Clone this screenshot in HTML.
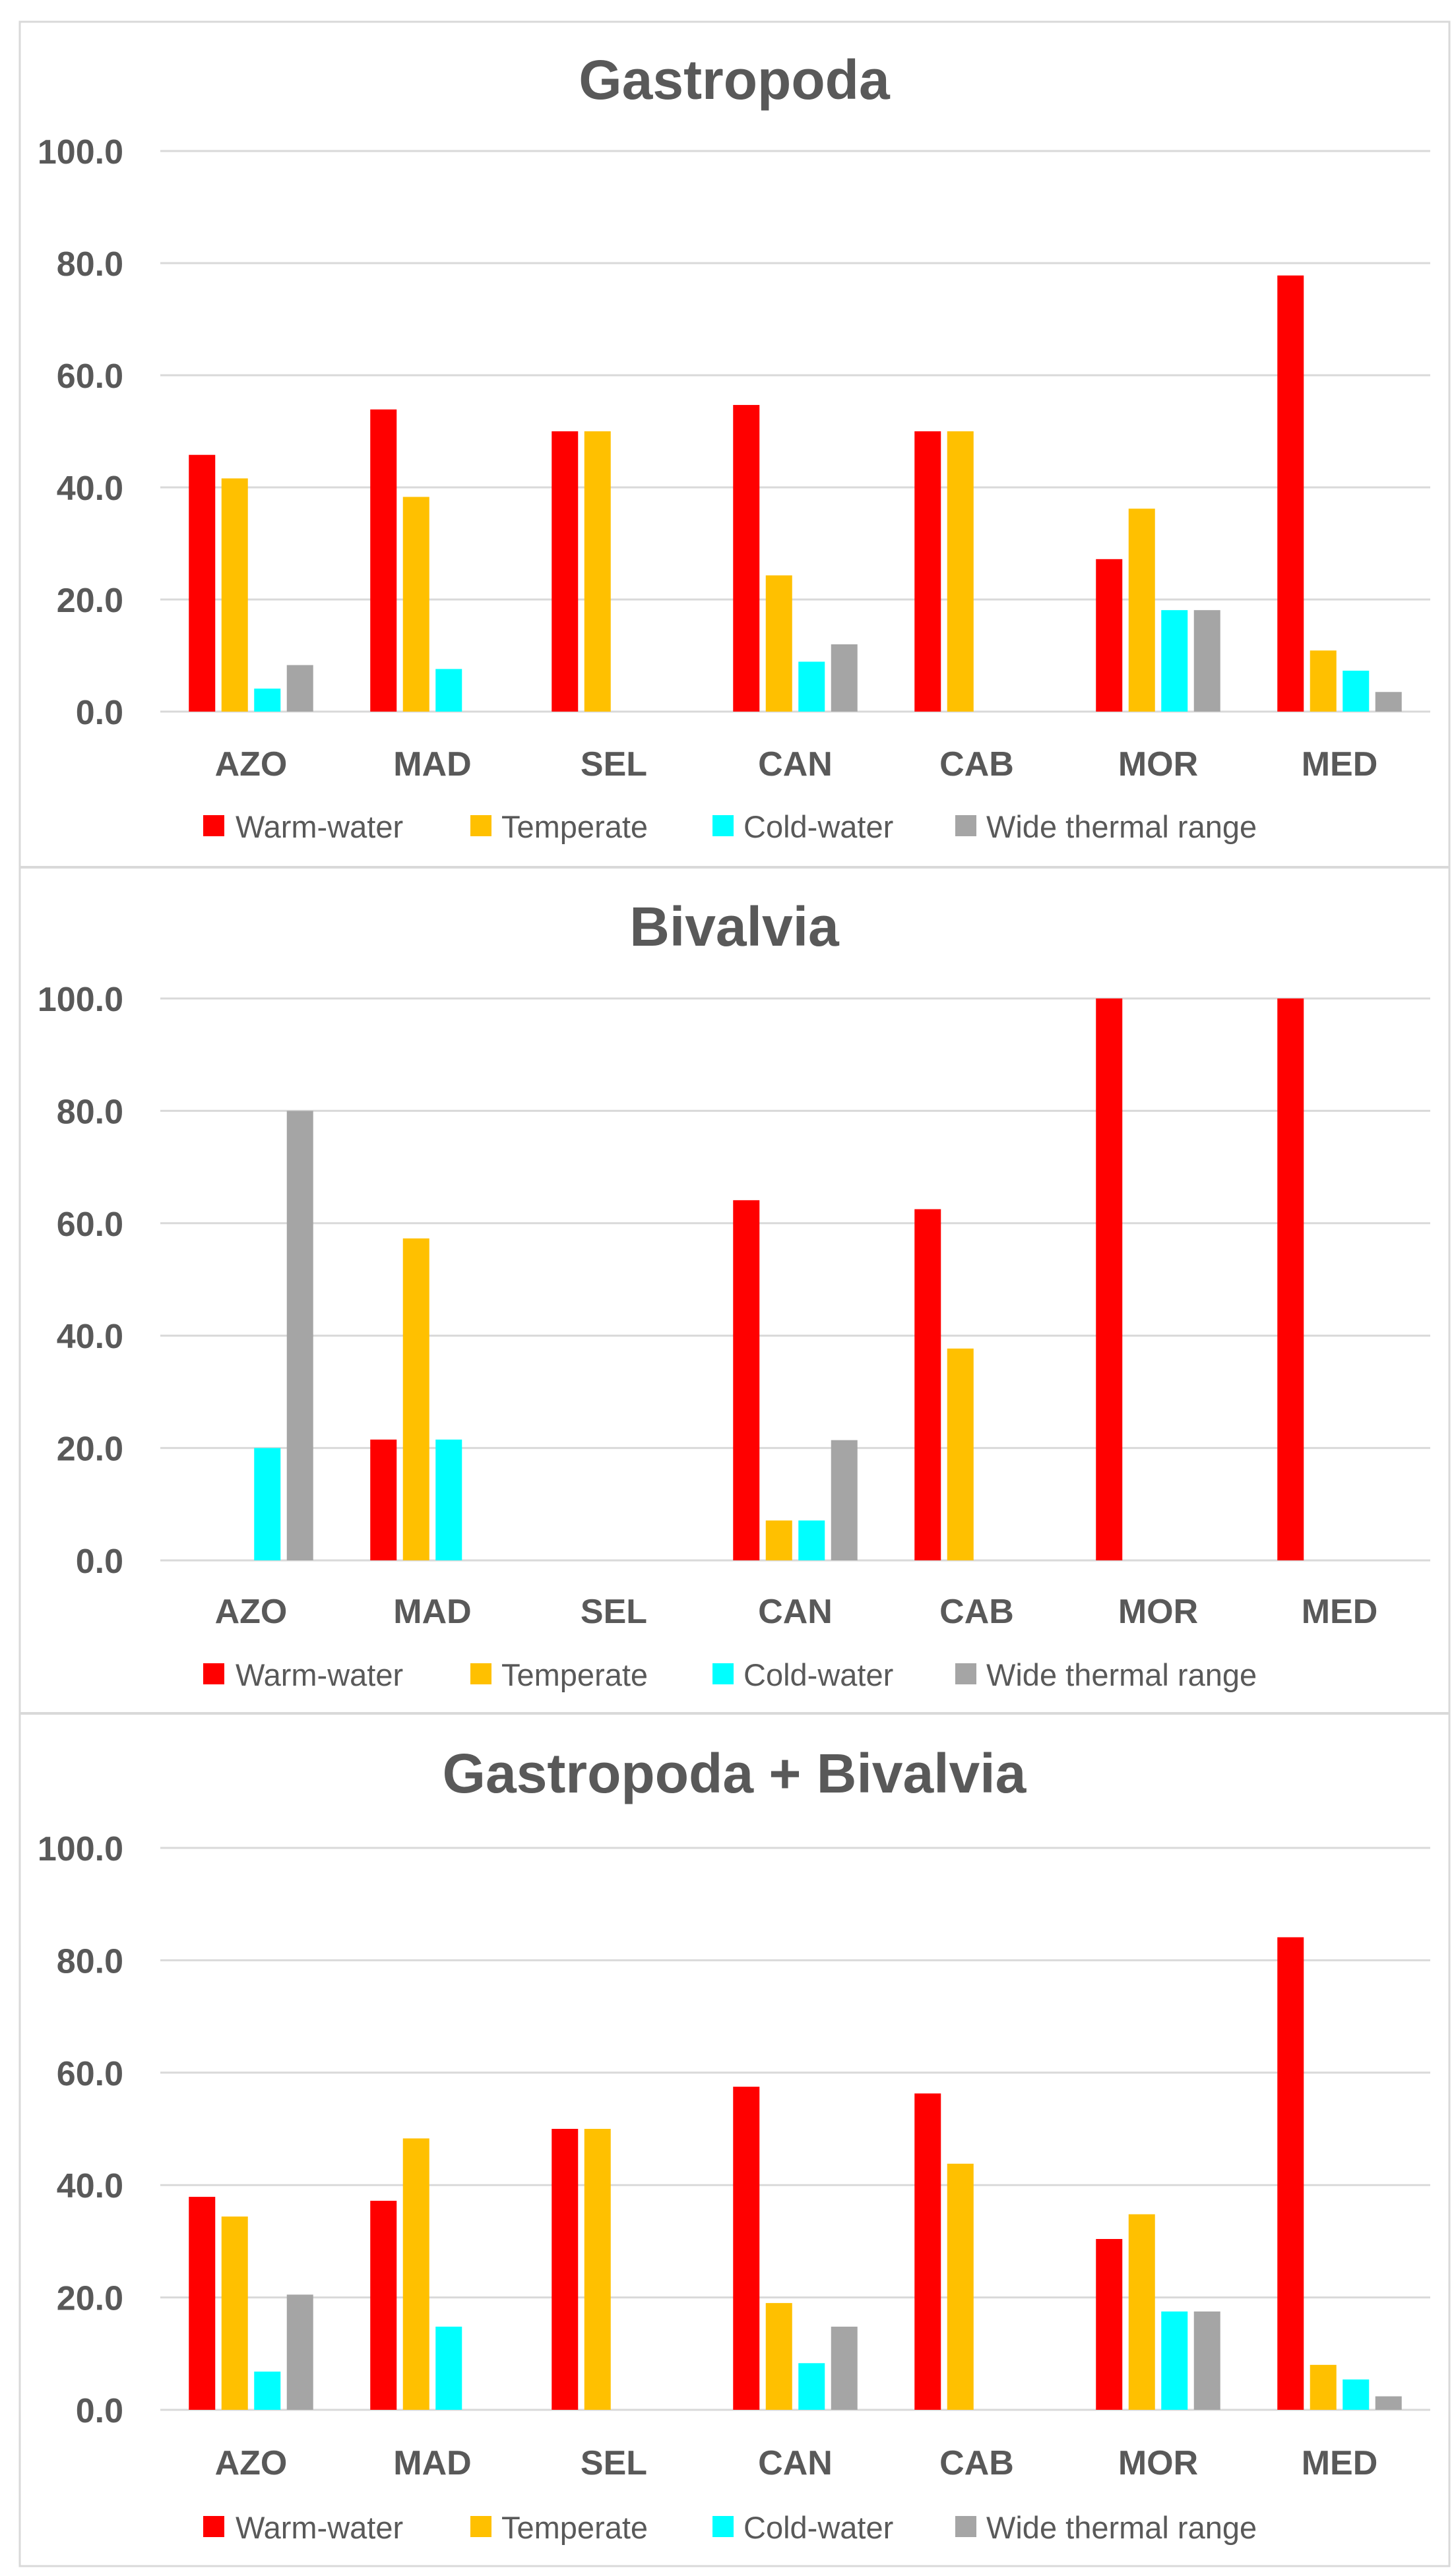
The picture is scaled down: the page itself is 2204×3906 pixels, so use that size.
<!DOCTYPE html>
<html><head><meta charset="utf-8"><style>
html,body{margin:0;padding:0;background:#fff;}
svg{display:block;font-family:"Liberation Sans",Arial,sans-serif;}
</style></head><body>
<svg id="chart" width="2204" height="3906" viewBox="0 0 2204 3906" xmlns="http://www.w3.org/2000/svg">
<rect x="0" y="0" width="2204" height="3906" fill="#fff"/>
<rect x="30" y="33" width="2167" height="3858" fill="none" stroke="#d9d9d9" stroke-width="3"/>
<line x1="30" y1="1315" x2="2197" y2="1315" stroke="#d9d9d9" stroke-width="4"/>
<line x1="30" y1="2598" x2="2197" y2="2598" stroke="#d9d9d9" stroke-width="4"/>
</svg>
<script>
const categories = ["AZO","MAD","SEL","CAN","CAB","MOR","MED"];
const seriesNames = ["Warm-water","Temperate","Cold-water","Wide thermal range"];
const titles = ["Gastropoda","Bivalvia","Gastropoda + Bivalvia"];
const tickValues = [0,20,40,60,80,100];
const tickLabels = ["0.0","20.0","40.0","60.0","80.0","100.0"];
const gastroWarm = [45.8,53.9,50,54.7,50,27.2,77.8];
const gastroTemp = [41.6,38.3,50,24.3,50,36.2,10.9];
const gastroCold = [4.1,7.6,0,8.9,0,18.1,7.3];
const gastroWide = [8.3,0,0,12.0,0,18.1,3.5];
const bivWarm = [0,21.5,0,64.1,62.5,100,100];
const bivTemp = [0,57.3,0,7.1,37.7,0,0];
const bivCold = [20,21.5,0,7.1,0,0,0];
const bivWide = [80,0,0,21.4,0,0,0];
const allWarm = [37.9,37.2,50,57.5,56.3,30.4,84.1];
const allTemp = [34.4,48.3,50,19.0,43.8,34.8,8.0];
const allCold = [6.8,14.8,0,8.3,0,17.5,5.4];
const allWide = [20.5,0,0,14.8,0,17.5,2.4];

const colors = ["#FF0000","#FFC000","#00FFFF","#A5A5A5"];
const panels = [
  {data:[gastroWarm,gastroTemp,gastroCold,gastroWide], top:229, bottom:1079, titleY:150, catY:1176, legY:1254, slug:"gastropoda"},
  {data:[bivWarm,bivTemp,bivCold,bivWide], top:1514, bottom:2366, titleY:1434, catY:2461, legY:2540, slug:"bivalvia"},
  {data:[allWarm,allTemp,allCold,allWide], top:2802, bottom:3654, titleY:2718, catY:3752, legY:3833, slug:"combined"}
];
const svg = document.getElementById('chart');
const NS = "http://www.w3.org/2000/svg";
const plotL = 243, plotR = 2168;
const catW = (plotR - plotL) / categories.length;
function mk(tag, attrs){ const e=document.createElementNS(NS,tag); for(const k in attrs) e.setAttribute(k,attrs[k]); svg.appendChild(e); return e; }
function xCenter(i){ return plotL + catW*(i+0.5); }
const legendSq = [308,713,1080,1448];
const legendTx = [357,760,1127,1495];

panels.forEach((p,pi)=>{
  const yScale = v => p.bottom - (v/100)*(p.bottom - p.top);
  const t = mk('text',{x:1113,y:p.titleY,'text-anchor':'middle','font-size':84,'font-weight':'bold',fill:'#595959'});
  t.textContent = titles[pi];
  
  
  tickValues.forEach((v,ti)=>{
    const y = yScale(v);
    const g = mk('line',{x1:plotL,y1:y,x2:plotR,y2:y,stroke:'#d9d9d9','stroke-width':3});
    
    
    const l = mk('text',{x:187,y:y+19,'text-anchor':'end','font-size':52,'font-weight':'bold',fill:'#595959'});
    l.textContent = tickLabels[ti];
    
    
  });
  categories.forEach((c,ci)=>{
    const cx = xCenter(ci);
    p.data.forEach((series,si)=>{
      const v = series[ci];
      if(!v) return;
      const x = cx + (si-1.5)*49.5 - 20;
      const y = yScale(v);
      const r = mk('rect',{x:x,y:y,width:40,height:p.bottom-y,fill:colors[si]});
      
      
    });
    const cl = mk('text',{x:cx,y:p.catY,'text-anchor':'middle','font-size':52,'font-weight':'bold',fill:'#595959'});
    cl.textContent = c;
    
    
  });
  seriesNames.forEach((s,si)=>{
    const sq = mk('rect',{x:legendSq[si],y:p.legY-18,width:32,height:32,fill:colors[si]});
    
    
    const lt = mk('text',{x:legendTx[si],y:p.legY+16,'font-size':47,fill:'#595959'});
    lt.textContent = s;
    
    
  });
});
</script>
</body></html>
